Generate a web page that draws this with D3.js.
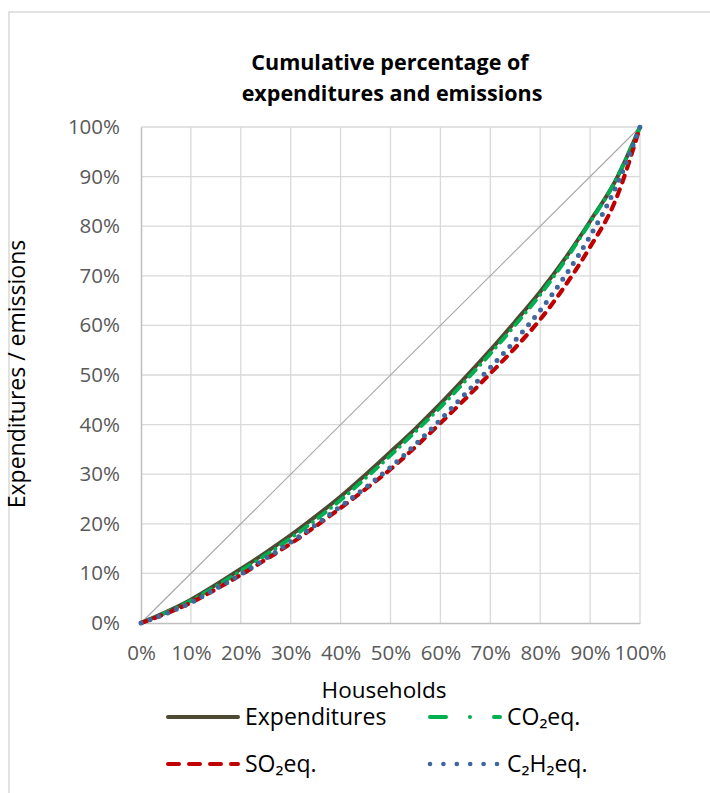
<!DOCTYPE html>
<html>
<head>
<meta charset="utf-8">
<script src="https://cdn.jsdelivr.net/npm/d3@7"></script>
<style>
  html, body { margin: 0; padding: 0; background: #fff; }
  svg { display: block; font-family: "Open Sans", sans-serif; }
</style>
</head>
<body>
<svg id="chart" width="710" height="793"></svg>
<script>
// Cumulative share of households (x, %)
const households = [0, 5, 10, 15, 20, 25, 30, 35, 40, 45, 50, 55, 60, 65, 70, 75, 80, 85, 90, 95, 100];
// Cumulative share of each quantity (y, %)
const expenditures = [0, 2.2, 4.7, 7.7, 10.9, 14.2, 17.7, 21.5, 25.5, 29.9, 34.5, 39.2, 44.2, 49.5, 55.0, 60.8, 66.8, 73.5, 81.0, 89.0, 100];
const co2eq = [0, 2.1, 4.5, 7.4, 10.5, 13.7, 17.1, 20.8, 24.8, 29.2, 33.8, 38.6, 43.5, 48.8, 54.3, 60.1, 66.2, 73.1, 80.8, 89.0, 100];
const so2eq = [0, 1.9, 4.1, 6.8, 9.7, 12.8, 16.0, 19.5, 23.2, 27.0, 31.0, 35.5, 40.3, 45.2, 50.3, 55.5, 61.2, 68.0, 75.8, 85.0, 100];
const c2h2eq = [0, 1.9, 4.1, 6.9, 9.8, 13.0, 16.3, 19.8, 23.5, 27.3, 31.4, 36.0, 41.0, 46.2, 51.5, 57.0, 63.0, 70.0, 78.0, 87.5, 100];
// Axis ticks
const ticks = [0, 10, 20, 30, 40, 50, 60, 70, 80, 90, 100];
const equality = [0, 100];

const series = [
  { name: "Expenditures", values: expenditures, color: "#4E4A32", width: 4, dash: null, legDash: null },
  { name: "CO\u2082eq.", values: co2eq, color: "#00B050", width: 4, dash: "9,7,0,7", legDash: "16,24,0,24" },
  { name: "SO\u2082eq.", values: so2eq, color: "#C00000", width: 4.2, dash: "7,7.5", legDash: "11,10" },
  { name: "C\u2082H\u2082eq.", values: c2h2eq, color: "#3E679E", width: 5, dash: "0,9.5", legDash: "0,13.4" }
];

const svg = d3.select("#chart");

// Chart frame
svg.append("rect").attr("x", 9).attr("y", 12).attr("width", 720).attr("height", 800)
  .attr("fill", "#fff").attr("stroke", "#D9D9D9").attr("stroke-width", 1.5);

const plotL = 141, plotR = 640, plotT = 127, plotB = 623;
const x = d3.scaleLinear().domain([0, 100]).range([plotL, plotR]);
const y = d3.scaleLinear().domain([0, 100]).range([plotB, plotT]);

// Gridlines
const grid = svg.append("g");
grid.selectAll("line.v").data(ticks.slice(1)).join("line")
  .attr("x1", d => x(d)).attr("x2", d => x(d)).attr("y1", y(0)).attr("y2", y(100))
  .attr("stroke", "#D9D9D9").attr("stroke-width", 1.3);
grid.selectAll("line.h").data(ticks.slice(1)).join("line")
  .attr("x1", x(0)).attr("x2", x(100)).attr("y1", d => y(d)).attr("y2", d => y(d))
  .attr("stroke", "#D9D9D9").attr("stroke-width", 1.3);

// Axes
const fmt = d => d + "%";
const xAxis = svg.append("g").attr("transform", `translate(0,${plotB})`)
  .call(d3.axisBottom(x).tickValues(ticks).tickFormat(fmt).tickSize(0).tickPadding(22));
const yAxis = svg.append("g").attr("transform", `translate(${plotL},0)`)
  .call(d3.axisLeft(y).tickValues(ticks).tickFormat(fmt).tickSize(0).tickPadding(21));
[xAxis, yAxis].forEach(g => {
  g.select(".domain").attr("stroke", "#BFBFBF").attr("stroke-width", 1.5);
  g.selectAll("text").attr("fill", "#595959").style("font-size", "20.5px")
    .style("font-family", "'Open Sans', sans-serif");
});

// Line of equality
svg.append("line")
  .attr("x1", x(equality[0])).attr("y1", y(equality[0]))
  .attr("x2", x(equality[1])).attr("y2", y(equality[1]))
  .attr("stroke", "#A6A6A6").attr("stroke-width", 1.1);

// Curves
const line = d3.line().x((d, i) => x(households[i])).y(d => y(d)).curve(d3.curveMonotoneX);
series.forEach(s => {
  svg.append("path").attr("d", line(s.values))
    .attr("fill", "none").attr("stroke", s.color).attr("stroke-width", s.width)
    .attr("stroke-linecap", "round").attr("stroke-linejoin", "round")
    .attr("stroke-dasharray", s.dash);
});

// Titles
svg.append("text").attr("x", 390).attr("y", 70).attr("text-anchor", "middle")
  .style("font-size", "21.5px").style("font-weight", "bold").attr("fill", "#000")
  .text("Cumulative percentage of");
svg.append("text").attr("x", 392).attr("y", 101).attr("text-anchor", "middle")
  .style("font-size", "21.5px").style("font-weight", "bold").attr("fill", "#000")
  .text("expenditures and emissions");
svg.append("text").attr("x", 384).attr("y", 698).attr("text-anchor", "middle")
  .style("font-size", "22.5px").attr("fill", "#000").text("Households");
svg.append("text").attr("transform", "translate(25,374) rotate(-90)").attr("text-anchor", "middle")
  .style("font-size", "23px").attr("fill", "#000").text("Expenditures / emissions");

// Legend
const legendPos = [[168, 717], [430, 717], [168, 764], [430, 764]];
series.forEach((s, i) => {
  const [lx, ly] = legendPos[i];
  svg.append("line").attr("x1", lx).attr("x2", lx + 70).attr("y1", ly).attr("y2", ly)
    .attr("stroke", s.color).attr("stroke-width", i === 3 ? 4.6 : 4)
    .attr("stroke-linecap", "round").attr("stroke-dasharray", s.legDash);
  svg.append("text").attr("x", lx + 77).attr("y", ly + 8)
    .style("font-size", "23px").attr("fill", "#000").text(s.name);
});
</script>
</body>
</html>
